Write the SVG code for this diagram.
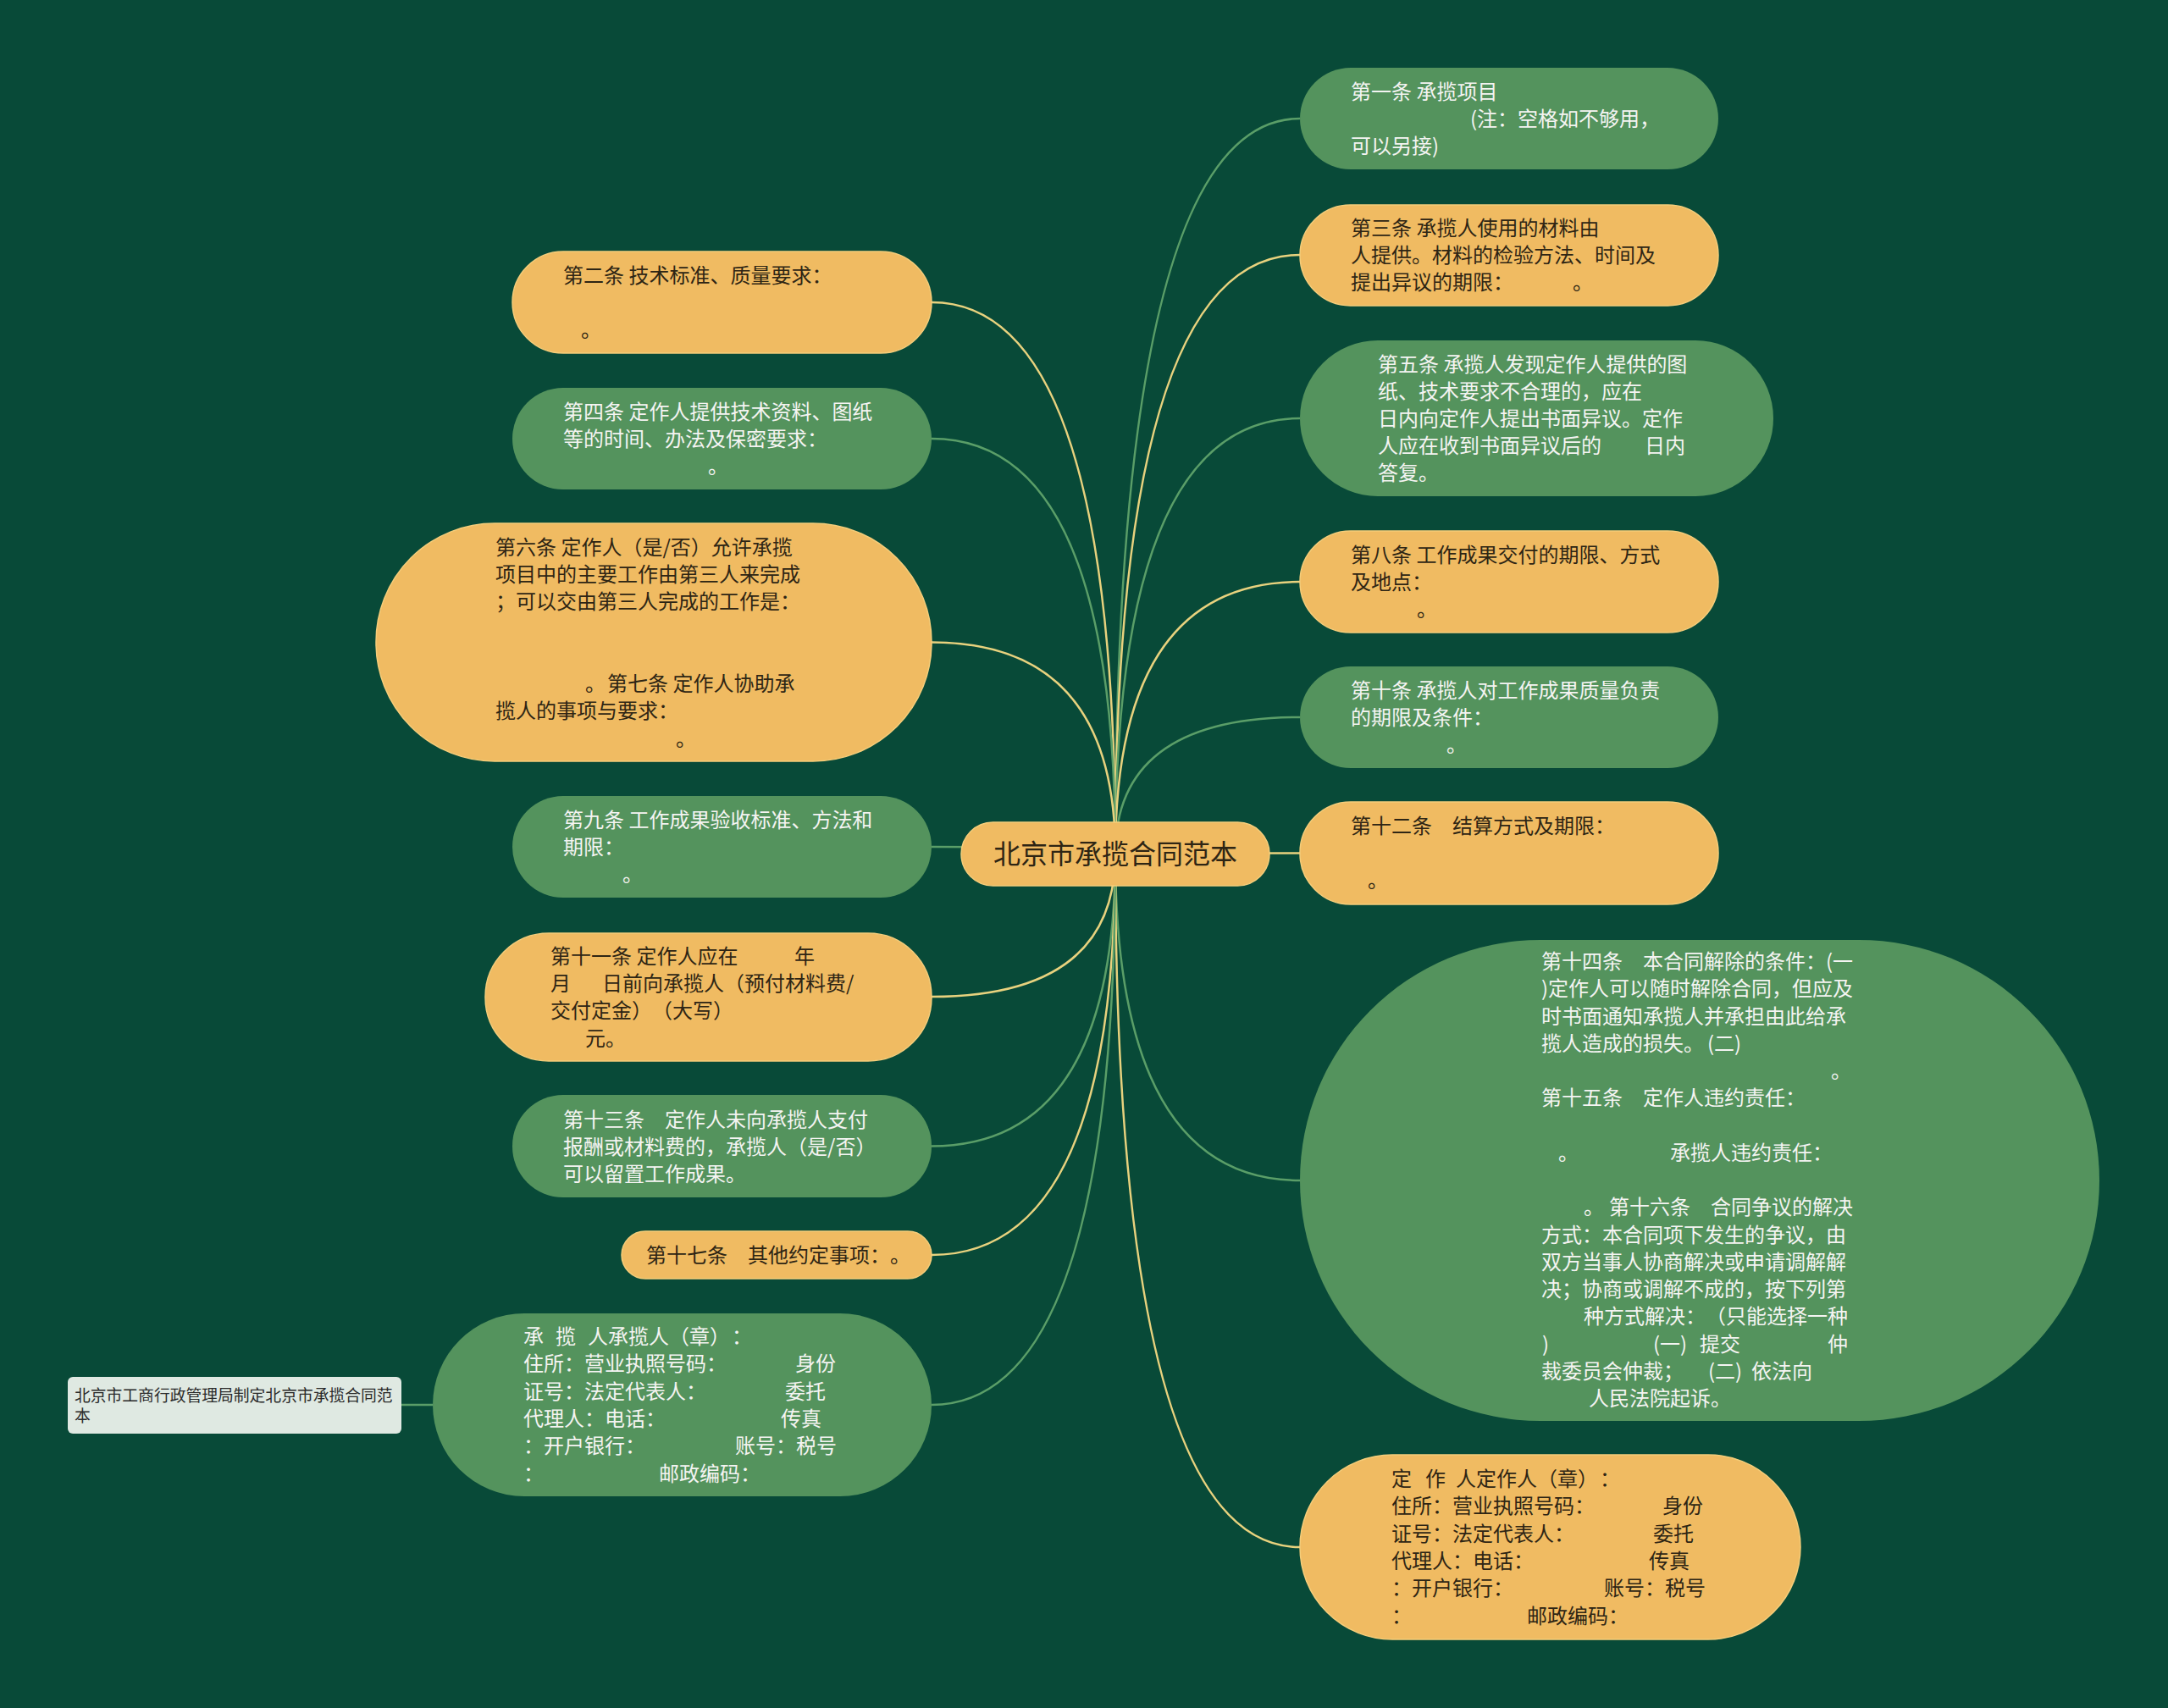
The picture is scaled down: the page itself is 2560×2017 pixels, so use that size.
<svg xmlns="http://www.w3.org/2000/svg" width="2560" height="2017" viewBox="0 0 2560 2017">
<style>
.bg{fill:#084a38}
.g{fill:#54935d}
.o{fill:#f0bb62;stroke:#f5cd7a;stroke-width:1.5}
.leaf{fill:#dfe9e2}
text{font-family:"Noto Sans CJK SC","Noto Sans",sans-serif;font-size:24px;text-spacing-trim:space-all}
.tg{fill:#f4f4f2}
.to{fill:#2e2514}
.tl{fill:#2a2a2a;font-size:18.8px}
.tc{fill:#2e2514;font-size:32px}
.cy{fill:none;stroke:#e8d27e;stroke-width:2.5}
.cg{fill:none;stroke:#5a9e68;stroke-width:2.5}
</style>
<rect class="bg" x="0" y="0" width="2560" height="2017"/>
<g id="connectors">
<path class="cg" d="M1317,1008 Q1317,140 1535,140"/>
<path class="cy" d="M1317,1008 Q1317,301 1535,301"/>
<path class="cg" d="M1317,1008 Q1317,494 1535,494"/>
<path class="cy" d="M1317,1008 Q1317,687 1535,687"/>
<path class="cg" d="M1317,1008 Q1317,847 1535,847"/>
<path class="cy" d="M1317,1008 Q1317,1007.5 1535,1007.5"/>
<path class="cg" d="M1317,1008 Q1317,1394 1535,1394"/>
<path class="cy" d="M1317,1008 Q1317,1827 1535,1827"/>
<path class="cy" d="M1317,1008 Q1317,357 1100,357"/>
<path class="cg" d="M1317,1008 Q1317,518 1100,518"/>
<path class="cy" d="M1317,1008 Q1317,758.5 1100,758.5"/>
<path class="cg" d="M1317,1008 Q1317,1000 1100,1000"/>
<path class="cy" d="M1317,1008 Q1317,1177 1100,1177"/>
<path class="cg" d="M1317,1008 Q1317,1353.5 1100,1353.5"/>
<path class="cy" d="M1317,1008 Q1317,1482 1100,1482"/>
<path class="cg" d="M1317,1008 Q1317,1659 1100,1659"/>
<path class="cg" d="M511,1659 L474,1659"/>
</g>
<g id="center">
<rect class="o" x="1135" y="971" width="364" height="75" rx="37.5"/>
<text class="tc" x="1317" y="1020" text-anchor="middle">北京市承揽合同范本</text>
</g>
<g id="n1">
<rect class="g" x="1535" y="80" width="494" height="120" rx="60"/>
<text class="tg"><tspan x="1595" y="117">第一条 承揽项目</tspan><tspan x="1736" y="149">(注：空格如不够用，</tspan><tspan x="1595" y="181">可以另接)</tspan></text>
</g>
<g id="n3">
<rect class="o" x="1535" y="242" width="494" height="119" rx="59.5"/>
<text class="to"><tspan x="1595" y="278">第三条 承揽人使用的材料由</tspan><tspan x="1595" y="310">人提供。材料的检验方法、时间及</tspan><tspan x="1595" y="342">提出异议的期限：</tspan><tspan x="1857" y="342">。</tspan></text>
</g>
<g id="n5">
<rect class="g" x="1535" y="402" width="559" height="184" rx="92"/>
<text class="tg"><tspan x="1627" y="439">第五条 承揽人发现定作人提供的图</tspan><tspan x="1627" y="471">纸、技术要求不合理的，应在</tspan><tspan x="1627" y="503">日内向定作人提出书面异议。定作</tspan><tspan x="1627" y="535">人应在收到书面异议后的</tspan><tspan x="1942" y="535">日内</tspan><tspan x="1627" y="567">答复。</tspan></text>
</g>
<g id="n8">
<rect class="o" x="1535" y="627" width="494" height="120" rx="60"/>
<text class="to"><tspan x="1595" y="664">第八条 工作成果交付的期限、方式</tspan><tspan x="1595" y="696">及地点：</tspan><tspan x="1673" y="728">。</tspan></text>
</g>
<g id="n10">
<rect class="g" x="1535" y="787" width="494" height="120" rx="60"/>
<text class="tg"><tspan x="1595" y="824">第十条 承揽人对工作成果质量负责</tspan><tspan x="1595" y="856">的期限及条件：</tspan><tspan x="1708" y="888">。</tspan></text>
</g>
<g id="n12">
<rect class="o" x="1535" y="947" width="494" height="121" rx="60"/>
<text class="to"><tspan x="1595" y="984">第十二条　结算方式及期限：</tspan><tspan x="1615" y="1048">。</tspan></text>
</g>
<g id="n14">
<rect class="g" x="1535" y="1110" width="944" height="568" rx="284"/>
<text class="tg"><tspan x="1820" y="1144">第十四条　本合同解除的条件：(一</tspan><tspan x="1820" y="1176">)定作人可以随时解除合同，但应及</tspan><tspan x="1820" y="1209">时书面通知承揽人并承担由此给承</tspan><tspan x="1820" y="1241">揽人造成的损失。</tspan><tspan x="2016" y="1241">(二)</tspan><tspan x="2162" y="1273">。</tspan><tspan x="1820" y="1305">第十五条　定作人违约责任：</tspan><tspan x="1840" y="1370">。</tspan><tspan x="1972" y="1370">承揽人违约责任：</tspan><tspan x="1870" y="1434">。</tspan><tspan x="1900" y="1434">第十六条　合同争议的解决</tspan><tspan x="1820" y="1467">方式：本合同项下发生的争议，由</tspan><tspan x="1820" y="1499">双方当事人协商解决或申请调解解</tspan><tspan x="1820" y="1531">决；协商或调解不成的，按下列第</tspan><tspan x="1870" y="1563">种方式解决：</tspan><tspan x="2014" y="1563">（只能选择一种</tspan><tspan x="1821" y="1596">)</tspan><tspan x="1952" y="1596">(一)</tspan><tspan x="2007" y="1596">提交</tspan><tspan x="2158" y="1596">仲</tspan><tspan x="1820" y="1628">裁委员会仲裁；</tspan><tspan x="2017" y="1628">(二)</tspan><tspan x="2068" y="1628">依法向</tspan><tspan x="1876" y="1660">人民法院起诉。</tspan></text>
</g>
<g id="n_dingzuoren">
<rect class="o" x="1535" y="1718" width="591" height="218" rx="109"/>
<text class="to"><tspan x="1643" y="1755">定</tspan><tspan x="1683" y="1755">作</tspan><tspan x="1719" y="1755">人定作人（章）</tspan><tspan x="1889" y="1755">：</tspan><tspan x="1643" y="1787">住所：营业执照号码：</tspan><tspan x="1963" y="1787">身份</tspan><tspan x="1643" y="1820">证号：法定代表人：</tspan><tspan x="1952" y="1820">委托</tspan><tspan x="1643" y="1852">代理人：电话：</tspan><tspan x="1947" y="1852">传真</tspan><tspan x="1643" y="1884">：开户银行：</tspan><tspan x="1894" y="1884">账号：税号</tspan><tspan x="1643" y="1917">：</tspan><tspan x="1803" y="1917">邮政编码：</tspan></text>
</g>
<g id="n2">
<rect class="o" x="605" y="297" width="495" height="120" rx="60"/>
<text class="to"><tspan x="665" y="334">第二条 技术标准、质量要求：</tspan><tspan x="686" y="398">。</tspan></text>
</g>
<g id="n4">
<rect class="g" x="605" y="458" width="495" height="120" rx="60"/>
<text class="tg"><tspan x="665" y="495">第四条 定作人提供技术资料、图纸</tspan><tspan x="665" y="527">等的时间、办法及保密要求：</tspan><tspan x="836" y="559">。</tspan></text>
</g>
<g id="n6">
<rect class="o" x="444" y="618" width="656" height="281" rx="140"/>
<text class="to"><tspan x="585" y="654.5">第六条 定作人（是/否）允许承揽</tspan><tspan x="585" y="687">项目中的主要工作由第三人来完成</tspan><tspan x="585" y="719">；可以交由第三人完成的工作是：</tspan><tspan x="691" y="816">。</tspan><tspan x="717" y="816">第七条 定作人协助承</tspan><tspan x="585" y="848">揽人的事项与要求：</tspan><tspan x="798" y="881">。</tspan></text>
</g>
<g id="n9">
<rect class="g" x="605" y="940" width="495" height="120" rx="60"/>
<text class="tg"><tspan x="665" y="977">第九条 工作成果验收标准、方法和</tspan><tspan x="665" y="1009">期限：</tspan><tspan x="735" y="1041">。</tspan></text>
</g>
<g id="n11">
<rect class="o" x="573" y="1102" width="527" height="151" rx="75"/>
<text class="to"><tspan x="650" y="1138">第十一条 定作人应在</tspan><tspan x="938" y="1138">年</tspan><tspan x="650" y="1170">月</tspan><tspan x="711" y="1170">日前向承揽人（预付材料费/</tspan><tspan x="650" y="1202">交付定金）</tspan><tspan x="770" y="1202">（大写）</tspan><tspan x="691" y="1235">元。</tspan></text>
</g>
<g id="n13">
<rect class="g" x="605" y="1293" width="495" height="121" rx="60"/>
<text class="tg"><tspan x="665" y="1330.5">第十三条　定作人未向承揽人支付</tspan><tspan x="665" y="1362.5">报酬或材料费的，承揽人（是/否）</tspan><tspan x="665" y="1395">可以留置工作成果。</tspan></text>
</g>
<g id="n17">
<rect class="o" x="734" y="1454" width="366" height="56" rx="28"/>
<text class="to"><tspan x="763" y="1491">第十七条　其他约定事项：</tspan><tspan x="1051" y="1491">。</tspan></text>
</g>
<g id="n_chenglanren">
<rect class="g" x="511" y="1551" width="589" height="216" rx="108"/>
<text class="tg"><tspan x="618" y="1587">承</tspan><tspan x="656" y="1587">揽</tspan><tspan x="694" y="1587">人承揽人（章）</tspan><tspan x="864" y="1587">：</tspan><tspan x="618" y="1619">住所：营业执照号码：</tspan><tspan x="939" y="1619">身份</tspan><tspan x="618" y="1652">证号：法定代表人：</tspan><tspan x="927" y="1652">委托</tspan><tspan x="618" y="1684">代理人：电话：</tspan><tspan x="922" y="1684">传真</tspan><tspan x="618" y="1716">：开户银行：</tspan><tspan x="868" y="1716">账号：税号</tspan><tspan x="618" y="1749">：</tspan><tspan x="778" y="1749">邮政编码：</tspan></text>
</g>
<g id="leaf">
<rect class="leaf" x="80" y="1626" width="394" height="67" rx="6"/>
<text class="tl"><tspan x="88" y="1655">北京市工商行政管理局制定北京市承揽合同范</tspan><tspan x="88" y="1679">本</tspan></text>
</g>
</svg>
